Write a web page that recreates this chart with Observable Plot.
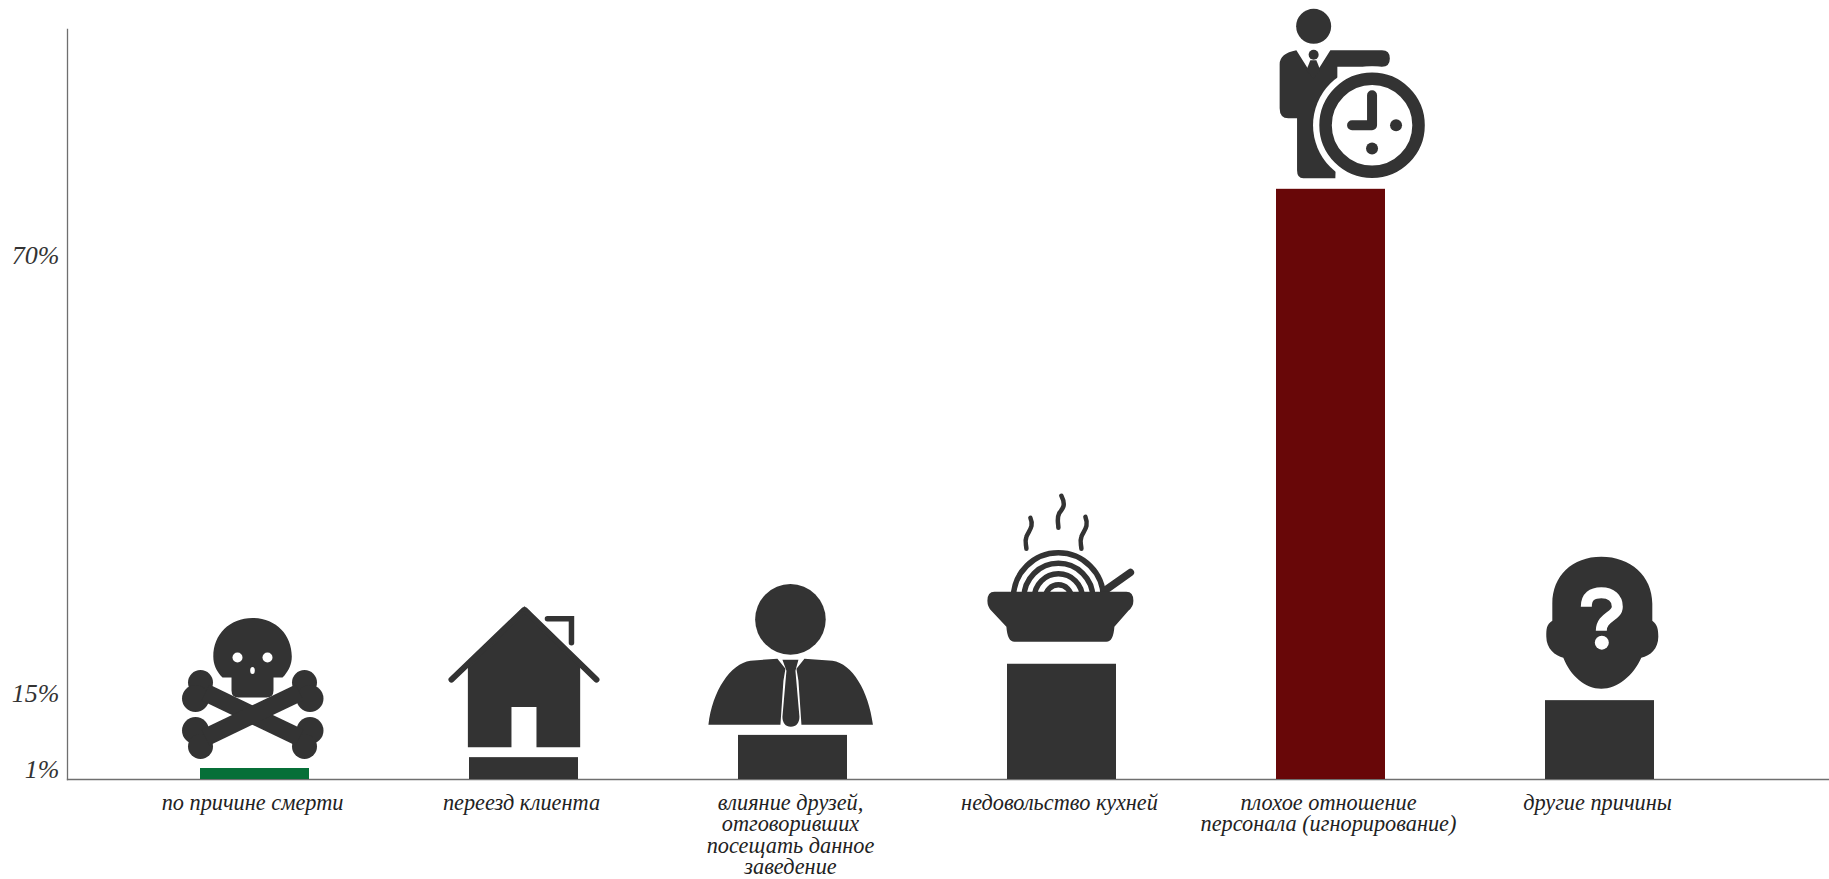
<!DOCTYPE html>
<html lang="ru">
<head>
<meta charset="utf-8">
<title>Причины ухода клиентов</title>
<script src="https://cdn.jsdelivr.net/npm/d3@7"></script>
<script src="https://cdn.jsdelivr.net/npm/@observablehq/plot@0.6"></script>
<style>
  html, body { margin: 0; padding: 0; background: #fff; overflow: hidden; }
</style>
</head>
<body>
<div id="chart"></div>
<script>
const categories = [
  "по причине смерти",
  "переезд клиента",
  "влияние друзей,\nотговоривших\nпосещать данное\nзаведение",
  "недовольство кухней",
  "плохое отношение\nперсонала (игнорирование)",
  "другие причины"
];
const values = [1, 3, 7.1, 18.6, 78.2, 13.5];
const barColors = ["#066f38", "#333333", "#333333", "#333333", "#680708", "#333333"];
const tickValues = [1, 15, 70];

// Pictograms: each is drawn in a box that sits on top of its bar.
const iconSkull = `<svg xmlns="http://www.w3.org/2000/svg" viewBox="159.5 578 190 190"><g fill="#333">
<path d="M252,617.5C229,617.5 212.8,634 212.8,656C212.8,664 216,670 220,675L222,677L231,677L231,690Q231,697 238,697L266,697Q273,697 273,690L273,677L282,677L284,675C288,670 291.3,664 291.3,656C291.3,634 275,617.5 252,617.5Z"/>
<circle cx="200" cy="682" r="12.5"/><circle cx="195" cy="698" r="13.5"/><circle cx="195" cy="730" r="13.5"/><circle cx="200" cy="746" r="12.5"/>
<circle cx="304" cy="682" r="12.5"/><circle cx="309.5" cy="698" r="13.5"/><circle cx="309.5" cy="730" r="13.5"/><circle cx="304" cy="746" r="12.5"/></g>
<g stroke="#333" stroke-width="17.5"><line x1="205" y1="692" x2="299" y2="737"/><line x1="205" y1="737" x2="299" y2="692"/></g>
<g fill="#fff"><circle cx="237" cy="657" r="5"/><circle cx="267" cy="657" r="5"/><ellipse cx="252" cy="670" rx="2.3" ry="3.5"/></g></svg>`;

const iconHouse = `<svg xmlns="http://www.w3.org/2000/svg" viewBox="428.53 568 190 190">
<path fill="#333" d="M524,610L579.7,664L579.7,747.7L536,747.7L536,707.3L511,707.3L511,747.7L467.4,747.7L467.4,664Z"/>
<path fill="none" stroke="#333" stroke-width="6" stroke-linecap="round" stroke-linejoin="bevel" d="M451,680L524,610L596,680"/>
<path fill="#333" d="M524,606.5L530,612L518,612Z"/>
<path fill="none" stroke="#333" stroke-width="5.5" stroke-linecap="round" d="M547,619L571,619L571,643"/></svg>`;

const iconPerson = `<svg xmlns="http://www.w3.org/2000/svg" viewBox="697.57 544.7 190 190"><g fill="#333">
<circle cx="790" cy="618.7" r="35.3"/>
<path d="M777,658L750,660C730,663 712,690 708,724L780,724L783,680L785,668Z"/>
<path d="M804,658L832,660C852,663 868,690 872.5,724L801,724L798,680L796,668Z"/>
<path d="M782,659L798,659L795,670L799,716C799,722 796,726 790.4,726C785,726 782,722 782,716L786,670Z"/></g></svg>`;

const iconSoup = `<svg xmlns="http://www.w3.org/2000/svg" viewBox="966.61 473 190 190">
<g fill="none" stroke="#333" stroke-width="5.5"><circle cx="1058" cy="597" r="45"/><circle cx="1058" cy="597" r="34.5"/><circle cx="1058" cy="597" r="24"/><circle cx="1058" cy="597" r="13"/></g>
<line x1="1130" y1="571.7" x2="1104" y2="590" stroke="#333" stroke-width="7.5" stroke-linecap="round"/>
<rect x="966" y="600" width="191" height="63" fill="#fff"/>
<path fill="#333" d="M994,591L1126,591Q1133,591 1133,600Q1133,606 1128,610L1114,626Q1113,641 1106,641L1014,641Q1007,641 1006,626L991,610Q987,606 987,600Q987,591 994,591Z"/>
<g fill="none" stroke="#333" stroke-width="4.5" stroke-linecap="round">
<path d="M1061,495C1066,505 1062,508 1059,512C1056,518 1058,522 1058,527"/>
<path d="M1030,517C1034,526 1028,530 1026,536C1024,541 1026,544 1026,548"/>
<path d="M1085,516C1089,526 1083,530 1081,536C1079,541 1081,544 1081,548"/></g></svg>`;

const iconClock = `<svg xmlns="http://www.w3.org/2000/svg" viewBox="1235.65 -1 190 190">
<g fill="#333"><circle cx="1313.3" cy="26" r="17.5"/>
<path d="M1296,50L1313,77L1330,50L1381.7,50Q1389.5,50 1389.5,58.3Q1389.5,66.5 1381.7,66.5L1337,66.5L1337,110L1335,178L1303,178Q1296.7,178 1296.7,170L1296.7,118L1288,118Q1279.3,118 1279.3,108L1279.3,64Q1279.3,53 1296,50Z"/></g>
<circle cx="1371.7" cy="125" r="59" fill="#fff"/>
<circle cx="1371.7" cy="125" r="46.5" fill="#fff" stroke="#333" stroke-width="12.5"/>
<path d="M1371.7,95L1371.7,125L1351.7,125" fill="none" stroke="#333" stroke-width="10" stroke-linecap="round" stroke-linejoin="round"/>
<g fill="#333"><circle cx="1395.7" cy="125" r="6"/><circle cx="1371.7" cy="148.3" r="6"/>
<circle cx="1313.3" cy="54.5" r="5"/><path d="M1310,60L1316,60L1320,70L1313,78L1306,70Z"/></g></svg>`;

const iconHead = `<svg xmlns="http://www.w3.org/2000/svg" viewBox="1504.69 510 190 190">
<path fill="#333" d="M1601,556C1572,556 1552,575 1552,603L1552,620C1546,624 1546,628 1546,636C1546,648 1555,655 1563,657C1570,675 1585,688 1601,688C1617,688 1633,675 1641,657C1650,655 1658,648 1658,636C1658,628 1657,624 1652,620L1652,603C1652,575 1630,556 1601,556Z"/>
<path fill="none" stroke="#fff" stroke-width="11" d="M1586,606C1586,596 1592,592 1601,592C1611,592 1617,598 1617,606C1617,616 1601,616 1601,630"/>
<circle cx="1601.5" cy="642" r="7" fill="#fff"/></svg>`;

const icons = [iconSkull, iconHouse, iconPerson, iconSoup, iconClock, iconHead];

const rows = categories.map((category, i) => ({
  category,
  value: values[i],
  color: barColors[i],
  icon: "data:image/svg+xml;charset=utf-8," + encodeURIComponent(icons[i])
}));

const handFont = "'Liberation Serif', serif";

const chart = Plot.plot({
  width: 1829,
  height: 879,
  marginTop: 29,
  marginRight: 0,
  marginBottom: 100,
  marginLeft: 67,
  style: {background: "#fff", fontFamily: handFont, overflow: "visible"},
  x: {type: "band", domain: categories, range: [40.2, 1814], paddingInner: 0.593, paddingOuter: 0.593, label: null},
  y: {type: "linear", domain: [0, 1, 15, 70, 98.3], range: [779, 768, 692, 254, 29], label: null},
  color: {type: "identity"},
  marks: [
    Plot.frame({anchor: "left", stroke: "#6f6f6f", strokeWidth: 1.3}),
    Plot.frame({anchor: "bottom", stroke: "#6f6f6f", strokeWidth: 1.3}),
    Plot.barY(rows, {x: "category", y: "value", fill: "color"}),
    Plot.image(rows, {x: "category", y: "value", src: "icon", width: 190, height: 190, dy: -95}),
    Plot.axisY({
      ticks: tickValues,
      tickFormat: d => d + "%",
      tickSize: 0,
      tickPadding: 8,
      label: null,
      dy: 1,
      fontSize: 26,
      fontStyle: "italic",
      fill: "#333"
    }),
    Plot.axisX({
      tickSize: 0,
      tickPadding: 15,
      label: null,
      lineAnchor: "top",
      lineHeight: 0.96,
      dx: -2.5,
      fontSize: 22.3,
      fontStyle: "italic",
      fill: "#222"
    })
  ]
});
document.getElementById("chart").appendChild(chart);
</script>
</body>
</html>
